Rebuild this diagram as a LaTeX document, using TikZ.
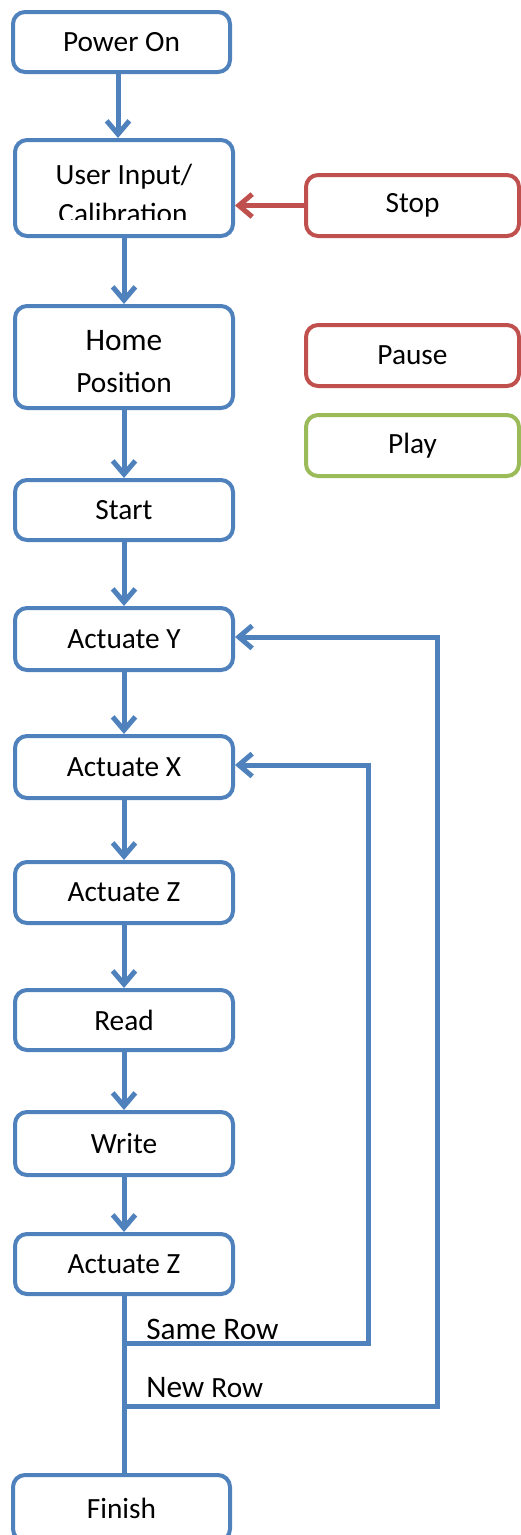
\documentclass[tikz,border=0pt]{standalone}
\usepackage{fontspec}
\setmainfont{Carlito}
\usetikzlibrary{arrows.meta}
\definecolor{cblue}{HTML}{4F81BD}
\definecolor{cred}{HTML}{C0504D}
\definecolor{cgreen}{HTML}{9BBB59}
\begin{document}
\begin{tikzpicture}[x=0.75pt,y=-0.75pt,
  box/.style={draw=cblue, line width=3pt, rounded corners=9pt, fill=white, inner sep=0pt,
    font=\fontsize{22}{26}\selectfont, align=center},
  redbox/.style={box, draw=cred},
  greenbox/.style={box, draw=cgreen},
  sz/.style 2 args={minimum width=#1*0.75pt, minimum height=#2*0.75pt},
  txt/.style={inner sep=0pt, font=\fontsize{22}{26}\selectfont},
  lbl/.style={inner sep=0pt, font=\fontsize{23.5}{28}\selectfont},
  conn/.style={draw=cblue, line width=3.75pt},
  flow/.style={conn, -{Straight Barb[length=10pt,width=17pt]}},
  redflow/.style={flow, draw=cred}
]
\useasboundingbox (0,0) rectangle (521,1535);

\node[box, sz={217}{60}] (po) at (121.5,42) {Power On};
\node[box, sz={218}{96}] (ui) at (124,188) {};
\begin{scope}
  \clip (20,150) rectangle (230,219.5);
  \node[txt, anchor=base] (ui1) at (124,184) {User Input/};
  \node[txt, anchor=base] (ui2) at (123,223) {Calibration};
\end{scope}
\node[redbox, sz={213}{61}] (stop) at (412.5,205.5) {Stop};
\node[box, sz={218}{102}] (home) at (124,357) {};
\node[txt, anchor=base, font=\fontsize{23.5}{28}\selectfont] (home1) at (124,350) {Home};
\node[txt, anchor=base] (home2) at (124,392) {Position};
\node[redbox, sz={213}{61}] (pause) at (412.5,355.5) {Pause};
\node[greenbox, sz={213}{61}] (play) at (412.5,445.5) {Play};
\node[box, sz={218}{60}] (start) at (124,510) {Start};
\node[box, sz={218}{62}] (ay) at (124,639) {Actuate Y};
\node[box, sz={218}{62}] (ax) at (124,767) {Actuate X};
\node[box, sz={218}{61}] (az1) at (124,892.5) {Actuate Z};
\node[box, sz={218}{60}] (read) at (124,1020) {Read};
\node[box, sz={218}{63}] (write) at (124,1143.5) {Write};
\node[box, sz={218}{60}] (az2) at (124,1264) {Actuate Z};
\node[box, sz={217}{66}] (fin) at (121.5,1508) {Finish};

% main flow
\draw[flow] (po.south -| 118,0) -- (ui.north -| 118,0);
\draw[redflow] (stop.west) -- (ui.east |- stop.west);
\draw[flow] (ui) -- (home);
\draw[flow] (home) -- (start);
\draw[flow] (start) -- (ay);
\draw[flow] (ay) -- (ax);
\draw[flow] (ax) -- (az1);
\draw[flow] (az1) -- (read);
\draw[flow] (read) -- (write);
\draw[flow] (write) -- (az2);
\draw[conn] (az2.south) -- (az2.south |- fin.north);

% loops
\coordinate (srj) at (124,1343);
\coordinate (srt) at (368,765);
\coordinate (nrj) at (124,1406);
\coordinate (nrt) at (437,637);
\draw[flow] (srj) -- (srj -| srt) -- (srt) -- (ax.east |- srt);
\draw[flow] (nrj) -- (nrj -| nrt) -- (nrt) -- (ay.east |- nrt);

\node[lbl, anchor=base west] (same) at (146,1339) {Same Row};
\node[lbl, anchor=base west] (new) at (146,1397) {New {\fontsize{22}{26}\selectfont Row}};
\end{tikzpicture}
\end{document}
